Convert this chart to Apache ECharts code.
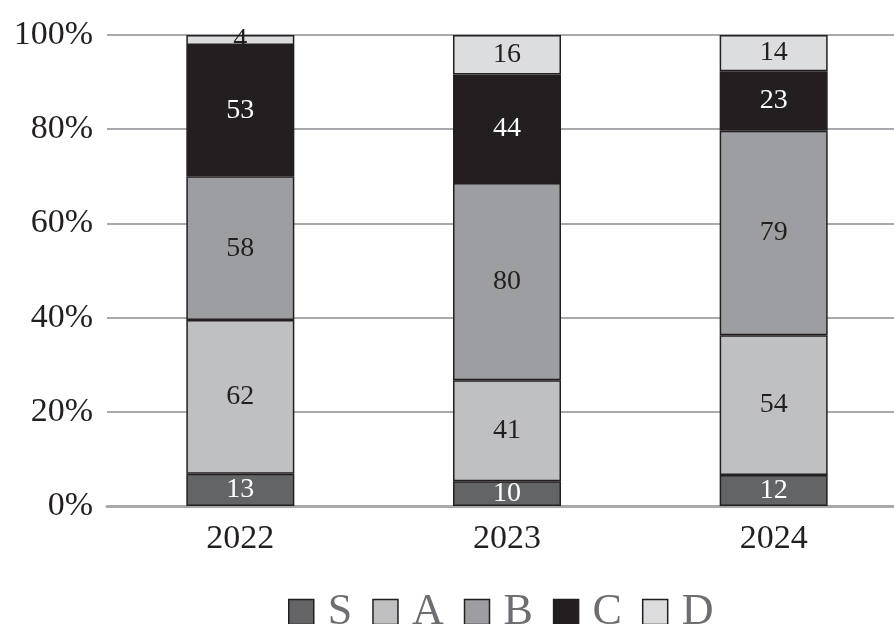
<!DOCTYPE html>
<html>
<head>
<meta charset="utf-8">
<script src="https://cdn.jsdelivr.net/npm/echarts@6/dist/echarts.min.js"></script>
<style>
  html, body { margin: 0; padding: 0; background: #fff; }
  #chart { width: 894px; height: 624px; }
</style>
</head>
<body>
<div id="chart"></div>
<script>
// Grade counts per year; bars show each grade's share of the yearly total.
const years = ['2022', '2023', '2024'];
const grades = ['S', 'A', 'B', 'C', 'D'];
const countsS = [13, 10, 12];
const countsA = [62, 41, 54];
const countsB = [58, 80, 79];
const countsC = [53, 44, 23];
const countsD = [4, 16, 14];
const yTicks = ['0%', '20%', '40%', '60%', '80%', '100%'];

const seriesCounts = [countsS, countsA, countsB, countsC, countsD];
const fills = ['#636466', '#bfc0c2', '#9d9ea1', '#231f20', '#dcdddf'];
const labelColors = ['#ffffff', '#231f20', '#231f20', '#ffffff', '#231f20'];
const serif = '"Liberation Serif", "DejaVu Serif", serif';

const totals = years.map((_, i) => seriesCounts.reduce((s, arr) => s + arr[i], 0));

const series = grades.map((g, k) => ({
  name: g,
  type: 'bar',
  stack: 'share',
  barWidth: 108,
  data: seriesCounts[k].map((v, i) => ({ value: v / totals[i] * 100, count: v })),
  itemStyle: { color: fills[k], borderColor: '#231f20', borderWidth: 1.5 },
  label: {
    show: true,
    position: 'inside',
    fontFamily: serif,
    fontSize: 28,
    color: labelColors[k],
    formatter: p => String(p.data.count)
  }
}));

const chart = echarts.init(document.getElementById('chart'), null, { renderer: 'canvas' });
chart.setOption({
  animation: false,
  backgroundColor: '#ffffff',
  // plot area runs past the right edge of the canvas
  grid: { left: 107, width: 800, top: 35, bottom: 118, containLabel: false, outerBoundsMode: 'none' },
  legend: {
    data: grades,
    top: 585,
    left: 283,
    itemWidth: 25,
    itemHeight: 25,
    itemGap: 20,
    icon: 'rect',
    textStyle: { fontFamily: serif, fontSize: 44, color: '#6d6e71', padding: [0, 0, 0, 9] },
    itemStyle: { borderColor: '#231f20', borderWidth: 1.5 }
  },
  xAxis: {
    type: 'category',
    data: years,
    axisLine: { show: true, lineStyle: { color: '#a7a9ac', width: 3 } },
    axisTick: { show: false },
    axisLabel: { fontFamily: serif, fontSize: 34, color: '#231f20', margin: 16 }
  },
  yAxis: {
    type: 'value',
    min: 0,
    max: 100,
    interval: 20,
    axisLine: { show: false },
    axisTick: { show: false },
    splitLine: { lineStyle: { color: '#a7a9ac', width: 2 } },
    axisLabel: {
      fontFamily: serif,
      fontSize: 34,
      color: '#231f20',
      margin: 14,
      formatter: v => yTicks[Math.round(v / 20)]
    }
  },
  series: series
});
</script>
</body>
</html>
